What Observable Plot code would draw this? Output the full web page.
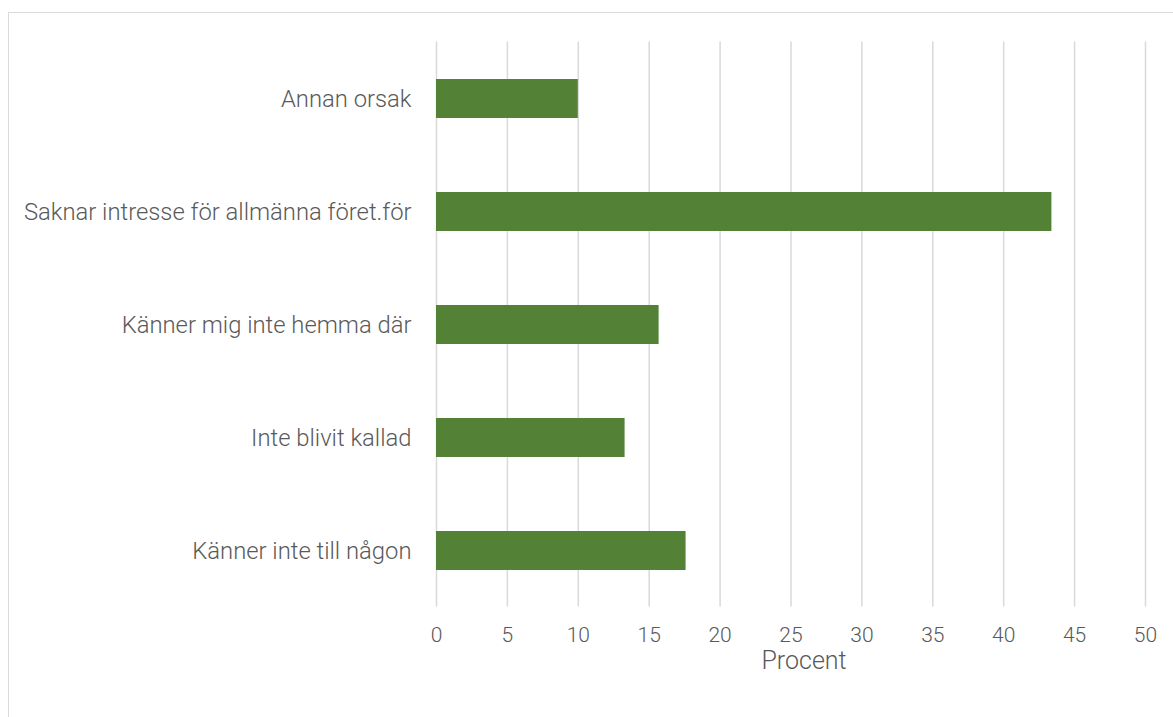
<!DOCTYPE html>
<html>
<head>
<meta charset="utf-8">
<script src="https://cdn.jsdelivr.net/npm/d3@7"></script>
<script src="https://cdn.jsdelivr.net/npm/@observablehq/plot@0.6"></script>
<style>
  html, body { margin: 0; padding: 0; background: #fff; overflow: hidden; }
  #wrap { position: relative; width: 1173px; height: 717px; }
  #frame { position: absolute; left: 8px; top: 12px; width: 1180px; height: 720px; border: 1px solid #d9d9d9; box-sizing: border-box; }
  #chart { position: absolute; left: 0; top: 0; }
  #chart text { font-weight: 300; }
</style>
</head>
<body>
<div id="wrap"><div id="frame"></div><div id="chart"></div></div>
<script>
const categories = [
  "Annan orsak",
  "Saknar intresse för allmänna föret.för",
  "Känner mig inte hemma där",
  "Inte blivit kallad",
  "Känner inte till någon"
];
const values = [10.0, 43.4, 15.7, 13.3, 17.6];
const xTicks = [0, 5, 10, 15, 20, 25, 30, 35, 40, 45, 50];
const xLabel = "Procent";

const data = categories.map((c, i) => ({category: c, value: values[i]}));

const chart = Plot.plot({
  width: 1173,
  height: 717,
  marginLeft: 436,
  marginRight: 28,
  marginTop: 41.5,
  marginBottom: 110.5,
  style: {fontFamily: "Roboto, 'Open Sans', sans-serif", fontSize: "20px", color: "#595959", background: "transparent"},
  x: {domain: [0, 50]},
  y: {domain: categories, paddingInner: 0.655, paddingOuter: 0.3275},
  marks: [
    Plot.gridX(xTicks, {stroke: "#d9d9d9", strokeOpacity: 1, strokeWidth: 1.5}),
    Plot.barX(data, {x: "value", y: "category", fill: "#538135"}),
    Plot.axisY({tickSize: 0, tickPadding: 25, label: null, fontSize: 23.8, fill: "#595959"}),
    Plot.axisX({ticks: xTicks, tickSize: 0, tickPadding: 20, label: null, fontSize: 21, fill: "#595959"}),
    Plot.text([xLabel], {frameAnchor: "bottom", text: d => d, dx: 13, dy: 54, lineAnchor: "middle", fontSize: 25, fill: "#595959"})
  ]
});
document.getElementById("chart").appendChild(chart);
</script>
</body>
</html>
